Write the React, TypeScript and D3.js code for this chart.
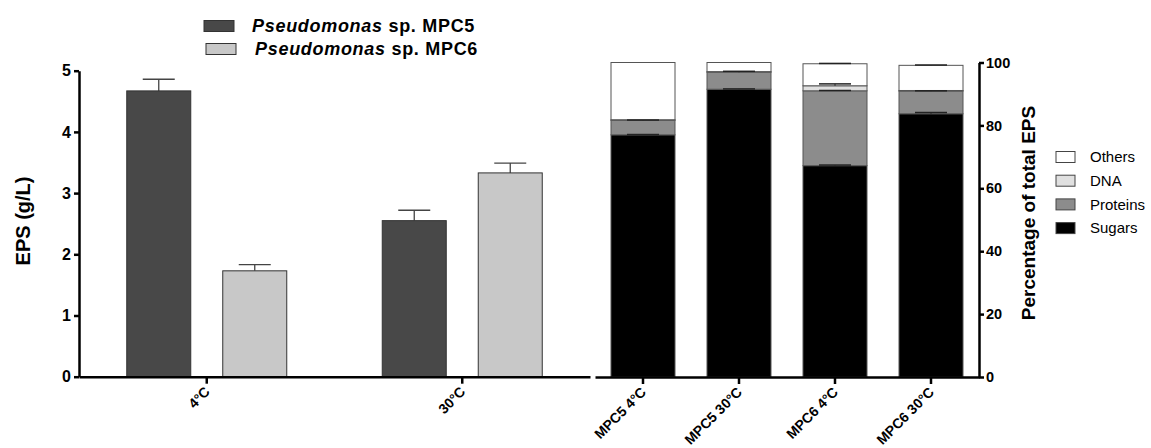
import { useEffect, useRef } from "react";
import * as d3 from "d3";

// left panel: total EPS (g/L)
const temps = ["4°C", "30°C"];
const strains = ["MPC5", "MPC6"];
const mpc5 = [4.67, 2.55];
const mpc5Err = [0.19, 0.17];
const mpc6 = [1.73, 3.33];
const mpc6Err = [0.1, 0.16];
const leftTicks = [0, 1, 2, 3, 4, 5];

// right panel: composition, % of total EPS
const samples = ["MPC5 4°C", "MPC5 30°C", "MPC6 4°C", "MPC6 30°C"];
const components = ["Sugars", "Proteins", "DNA", "Others"];
const sugars = [77.0, 91.5, 67.2, 83.7];
const proteins = [4.6, 5.4, 23.8, 7.2];
const dna = [0.2, 0.2, 1.6, 0.2];
const others = [18.2, 2.9, 7.0, 8.0];
const sugarsErr = [0.1, 0.1, 0.2, 0.4];
const proteinsErr = [0.1, 0.3, 0.1, 0.1];
const dnaErr = [0, 0, 0.6, 0];
const othersErr = [0, 0, 0.1, 0.1];
const rightTicks = [0, 20, 40, 60, 80, 100];

const FONT = "'Liberation Sans', Arial, sans-serif";

export default function App() {
  const svgRef = useRef<SVGSVGElement | null>(null);

  useEffect(() => {
    const svg = d3.select(svgRef.current);
    svg.selectAll("*").remove();

    const strainColor: { [k: string]: string } = { MPC5: "#484848", MPC6: "#c8c8c8" };
    const compColor: { [k: string]: string } = {
      Sugars: "#000000",
      Proteins: "#8c8c8c",
      DNA: "#e0e0e0",
      Others: "#ffffff",
    };

    // ---------- left chart ----------
    const yL = d3.scaleLinear().domain([0, 5]).range([376.7, 70.7]);
    const xL = d3.scaleBand<string>().domain(temps).range([79, 590]);
    const xIn = d3.scaleBand<string>().domain(strains).range([-80, 80]).paddingInner(1 / 3);

    const groups = temps.map((t, i) => [
      { strain: "MPC5", v: mpc5[i], e: mpc5Err[i], t },
      { strain: "MPC6", v: mpc6[i], e: mpc6Err[i], t },
    ]).flat();

    const gL = svg.append("g");
    const bw = xIn.bandwidth();
    groups.forEach((d) => {
      const cx = (xL(d.t) as number) + xL.bandwidth() / 2;
      const x0 = cx + (xIn(d.strain) as number);
      const xm = x0 + bw / 2;
      gL.append("line")
        .attr("x1", xm).attr("x2", xm)
        .attr("y1", yL(d.v)).attr("y2", yL(d.v + d.e))
        .attr("stroke", "#444").attr("stroke-width", 1.3);
      gL.append("line")
        .attr("x1", xm - bw / 4).attr("x2", xm + bw / 4)
        .attr("y1", yL(d.v + d.e)).attr("y2", yL(d.v + d.e))
        .attr("stroke", "#444").attr("stroke-width", 1.3);
      gL.append("rect")
        .attr("x", x0).attr("width", bw)
        .attr("y", yL(d.v)).attr("height", yL(0) - yL(d.v))
        .attr("fill", strainColor[d.strain])
        .attr("stroke", "#333").attr("stroke-width", 1);
    });

    const axL = svg.append("g")
      .attr("transform", "translate(79,0)")
      .call(d3.axisLeft(yL).tickValues(leftTicks).tickFormat(d3.format("d")).tickSize(5).tickSizeOuter(0).tickPadding(3));
    const axLB = svg.append("g")
      .attr("transform", `translate(0,${yL(0)})`)
      .call(d3.axisBottom(xL).tickSize(7).tickSizeOuter(0));

    // ---------- right chart ----------
    const yR = d3.scaleLinear().domain([0, 100]).range([377, 62.5]);
    const xR = d3.scaleBand<string>().domain(samples).range([595, 979]).paddingInner(1 / 3).paddingOuter(1 / 6);
    const table = samples.map((s, i) => ({
      sample: s,
      Sugars: sugars[i],
      Proteins: proteins[i],
      DNA: dna[i],
      Others: others[i],
    }));
    const errs: { [k: string]: number[] } = {
      Sugars: sugarsErr,
      Proteins: proteinsErr,
      DNA: dnaErr,
      Others: othersErr,
    };
    const stack = d3.stack<any>().keys(components)(table);
    const gR = svg.append("g");
    const rbw = xR.bandwidth();
    stack.forEach((layer) => {
      layer.forEach((seg, i) => {
        const x0 = xR(samples[i]) as number;
        gR.append("rect")
          .attr("x", x0).attr("width", rbw)
          .attr("y", yR(seg[1])).attr("height", yR(seg[0]) - yR(seg[1]))
          .attr("fill", compColor[layer.key])
          .attr("stroke", "#555").attr("stroke-width", 1);
      });
    });
    stack.forEach((layer) => {
      layer.forEach((seg, i) => {
        const e = errs[layer.key][i];
        if (e <= 0) return;
        const xm = (xR(samples[i]) as number) + rbw / 2;
        gR.append("line")
          .attr("x1", xm).attr("x2", xm)
          .attr("y1", yR(seg[1])).attr("y2", yR(seg[1] + e))
          .attr("stroke", "#222").attr("stroke-width", 1);
        gR.append("line")
          .attr("x1", xm - rbw / 4).attr("x2", xm + rbw / 4)
          .attr("y1", yR(seg[1] + e)).attr("y2", yR(seg[1] + e))
          .attr("stroke", "#222").attr("stroke-width", 1.5);
      });
    });

    const axR = svg.append("g")
      .attr("transform", "translate(979,0)")
      .call(d3.axisRight(yR).tickValues(rightTicks).tickSize(5).tickSizeOuter(0).tickPadding(2));
    const axRB = svg.append("g")
      .attr("transform", `translate(0,${yR(0)})`)
      .call(d3.axisBottom(xR).tickSize(7).tickSizeOuter(0));

    [axL, axLB, axR, axRB].forEach((ax) => {
      ax.selectAll("path,line").attr("stroke", "#000").attr("stroke-width", 2.5);
      ax.selectAll("text")
        .attr("fill", "#000")
        .style("font-family", FONT)
        .style("font-weight", "bold");
    });
    axL.selectAll("text").style("font-size", "16px");
    axR.selectAll("text").style("font-size", "14.5px");
    [axLB, axRB].forEach((ax) => {
      ax.selectAll("text")
        .attr("x", 0).attr("y", 0).attr("dy", null)
        .attr("transform", "translate(4,16) rotate(-45)")
        .style("text-anchor", "end")
        .style("font-size", "14px");
    });

    // axis titles
    svg.append("text")
      .attr("transform", "translate(30,221) rotate(-90)")
      .attr("text-anchor", "middle")
      .style("font-family", FONT).style("font-weight", "bold").style("font-size", "20px")
      .text("EPS (g/L)");
    svg.append("text")
      .attr("transform", "translate(1035,213) rotate(-90)")
      .attr("text-anchor", "middle")
      .style("font-family", FONT).style("font-weight", "bold").style("font-size", "19px")
      .text("Percentage of total EPS");

    // top legend
    const legTop = svg.append("g");
    strains.forEach((s, i) => {
      const cy = 26 + i * 23;
      legTop.append("rect")
        .attr("x", 204 + i * 2).attr("y", cy - 5.5).attr("width", 30).attr("height", 11)
        .attr("fill", strainColor[s]).attr("stroke", "#333").attr("stroke-width", 1);
      const t = legTop.append("text")
        .attr("x", 252 + i * 3).attr("y", cy).attr("dy", "0.35em")
        .style("font-family", FONT).style("font-weight", "bold").style("font-size", "18px")
        .style("letter-spacing", "0.7px");
      t.append("tspan").style("font-style", "italic").text("Pseudomonas");
      t.append("tspan").text(` sp. ${s}`);
    });

    // right legend
    const legR = svg.append("g");
    components.slice().reverse().forEach((c, i) => {
      const cy = 157 + i * 23.7;
      legR.append("rect")
        .attr("x", 1056).attr("y", cy - 5.5).attr("width", 19).attr("height", 11)
        .attr("fill", compColor[c]).attr("stroke", "#444").attr("stroke-width", 1);
      legR.append("text")
        .attr("x", 1090).attr("y", cy).attr("dy", "0.35em")
        .style("font-family", FONT).style("font-size", "15px")
        .text(c);
    });

    return () => {
      svg.selectAll("*").remove();
    };
  }, []);

  return (
    <svg
      ref={svgRef}
      width={1151}
      height={448}
      style={{ position: "absolute", left: 0, top: 0, background: "#fff" }}
    />
  );
}
